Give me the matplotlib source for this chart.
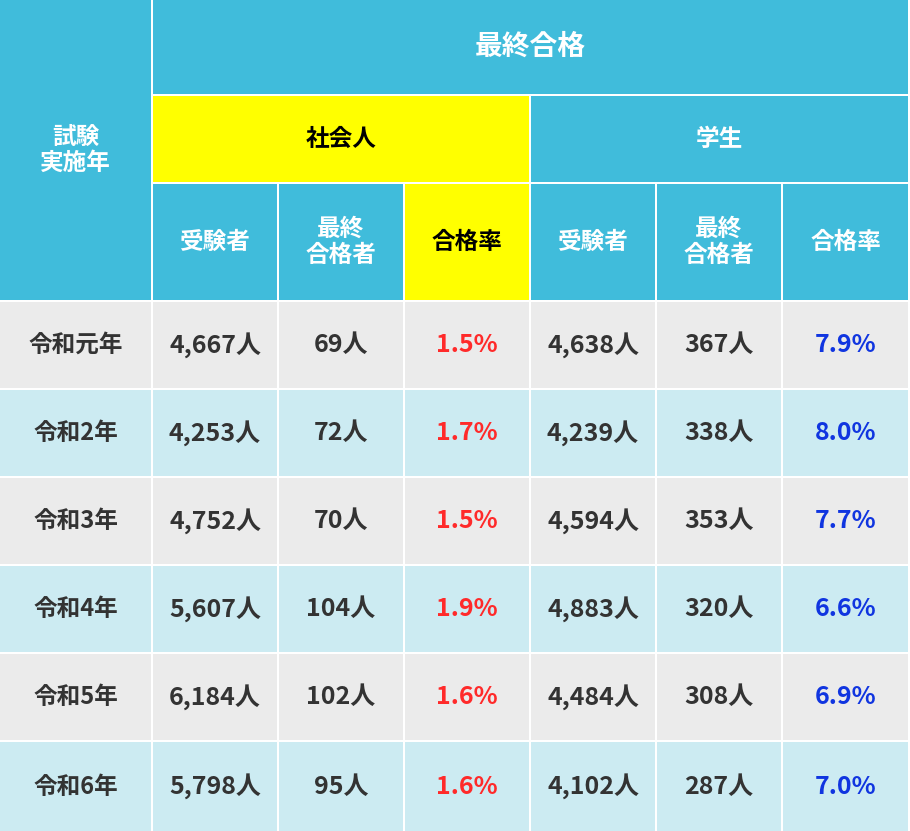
import matplotlib
matplotlib.use("Agg")
import matplotlib.pyplot as plt
from matplotlib.patches import Rectangle

years = ["令和元年", "令和2年", "令和3年", "令和4年", "令和5年", "令和6年"]
shakai_examinees = ["4,667人", "4,253人", "4,752人", "5,607人", "6,184人", "5,798人"]
shakai_passed = ["69人", "72人", "70人", "104人", "102人", "95人"]
shakai_rate = ["1.5%", "1.7%", "1.5%", "1.9%", "1.6%", "1.6%"]
student_examinees = ["4,638人", "4,239人", "4,594人", "4,883人", "4,484人", "4,102人"]
student_passed = ["367人", "338人", "353人", "320人", "308人", "287人"]
student_rate = ["7.9%", "8.0%", "7.7%", "6.6%", "6.9%", "7.0%"]

FONT = "Noto Sans CJK JP"
W, H = 910, 831
fig = plt.figure(figsize=(W/100, H/100), dpi=100)
ax = fig.add_axes([0, 0, 1, 1])
ax.set_xlim(0, W); ax.set_ylim(H, 0); ax.axis("off")

CYAN = "#40BCDB"; YEL = "#FFFF00"; GRAY = "#EBEBEB"; LBLUE = "#CCEBF2"
DARK = "#333333"; RED = "#FF2A2A"; BLUE = "#1035E0"
xs = [0, 153, 279, 405, 531, 657, 783, 910]
g = 2

def cell(x0, y0, x1, y1, fc, text, tc, size=19):
    ax.add_patch(Rectangle((x0, y0), x1-x0-g, y1-y0-g, fc=fc, ec="none"))
    ax.text((x0+x1-g)/2, (y0+y1-g)/2, text, ha="center", va="center",
            color=tc, fontsize=size, fontweight="bold", family=FONT, linespacing=1.1)

cell(0, 0, 153, 302, CYAN, "試験\n実施年", "white", 17)
cell(153, 0, 910, 96, CYAN, "最終合格", "white", 20)
cell(153, 96, 531, 184, YEL, "社会人", "black", 17)
cell(531, 96, 910, 184, CYAN, "学生", "white", 17)
subs = ["受験者", "最終\n合格者", "合格率", "受験者", "最終\n合格者", "合格率"]
for i, s in enumerate(subs):
    fc = YEL if i == 2 else CYAN
    tc = "black" if i == 2 else "white"
    cell(xs[i+1], 184, xs[i+2], 302, fc, s, tc, 17)

cols = [shakai_examinees, shakai_passed, shakai_rate, student_examinees, student_passed, student_rate]
colors = [DARK, DARK, RED, DARK, DARK, BLUE]
for r in range(6):
    y0 = 302 + r*88; y1 = y0 + 88 if r < 5 else H + g
    fc = GRAY if r % 2 == 0 else LBLUE
    cell(0, y0, 153, y1, fc, years[r], DARK, 17)
    for c in range(6):
        cell(xs[c+1], y0, xs[c+2], y1, fc, cols[c][r], colors[c], 18)

fig.savefig("out.png", dpi=100, facecolor="white")
